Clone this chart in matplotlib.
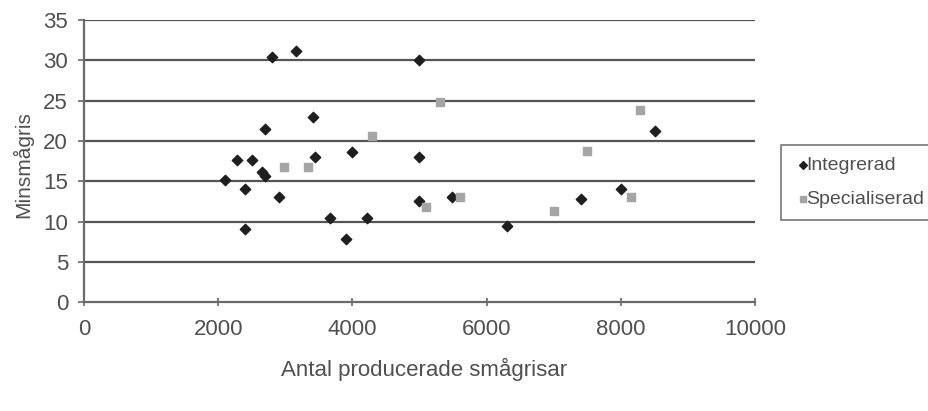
import matplotlib.pyplot as plt

# Integrerad
int_x = [2100, 2280, 2400, 2400, 2500, 2700, 2650, 2700, 2800, 2900, 3160, 3410, 3440,
         3670, 3900, 4000, 4220, 5000, 5000, 5000, 5480, 6300, 7400, 8000, 8510]
int_y = [15.1, 17.6, 14.1, 9.1, 17.6, 21.5, 16.1, 15.7, 30.4, 13.0, 31.2, 23.0, 18.0,
         10.4, 7.8, 18.6, 10.4, 30.0, 18.0, 12.6, 13.0, 9.4, 12.8, 14.1, 21.2]

# Specialiserad
spec_x = [2980, 3340, 4290, 5300, 5100, 5600, 7000, 7500, 8150, 8290]
spec_y = [16.8, 16.8, 20.6, 24.8, 11.8, 13.0, 11.3, 18.7, 13.0, 23.8]

xticks = [0, 2000, 4000, 6000, 8000, 10000]
yticks = [0, 5, 10, 15, 20, 25, 30, 35]

plt.rcParams['font.family'] = ['Liberation Sans', 'DejaVu Sans']
txt = '#505050'

fig = plt.figure(figsize=(9.29, 4.11), dpi=100)
ax = fig.add_axes([0.0904, 0.265, 0.7223, 0.686])

for y in yticks[1:]:
    ax.axhline(y, color='#555555', lw=1.6, zorder=1)

ax.scatter(int_x, int_y, marker='D', s=28, color='#1e1e1e', zorder=3, label='Integrerad')
ax.scatter(spec_x, spec_y, marker='s', s=26, color='#a5a5a5', zorder=3, label='Specialiserad')

ax.set_xlim(0, 10000)
ax.set_ylim(0, 35)
ax.set_xticks(xticks)
ax.set_yticks(yticks)
ax.tick_params(axis='x', direction='inout', length=6, width=1.2, colors='#6a6a6a',
               labelcolor=txt, labelsize=16, pad=9)
ax.tick_params(axis='y', direction='out', length=4.5, width=1.2, colors='#6a6a6a',
               labelcolor=txt, labelsize=16, pad=7)

for side in ['top', 'right']:
    ax.spines[side].set_visible(False)
for side in ['left', 'bottom']:
    ax.spines[side].set_color('#6a6a6a')
    ax.spines[side].set_linewidth(1.6)

fig.text(0.024, 0.6, 'Minsmågris', rotation=90, ha='center', va='center',
         fontsize=15, color=txt)
fig.text(0.456, 0.1, 'Antal producerade smågrisar', ha='center', va='center',
         fontsize=16, color=txt)

# legend sits outside the plot, against the right edge, like the original
leg = fig.legend(loc='upper left', bbox_to_anchor=(0.841, 0.648), frameon=True,
                 fancybox=False, edgecolor='#555555', fontsize=14,
                 handletextpad=-0.3, handlelength=1.0, borderpad=0.6,
                 labelspacing=0.85, markerscale=0.75, borderaxespad=0)
leg.get_frame().set_linewidth(1.2)
for t in leg.get_texts():
    t.set_color(txt)

fig.savefig('out.png', dpi=100)
